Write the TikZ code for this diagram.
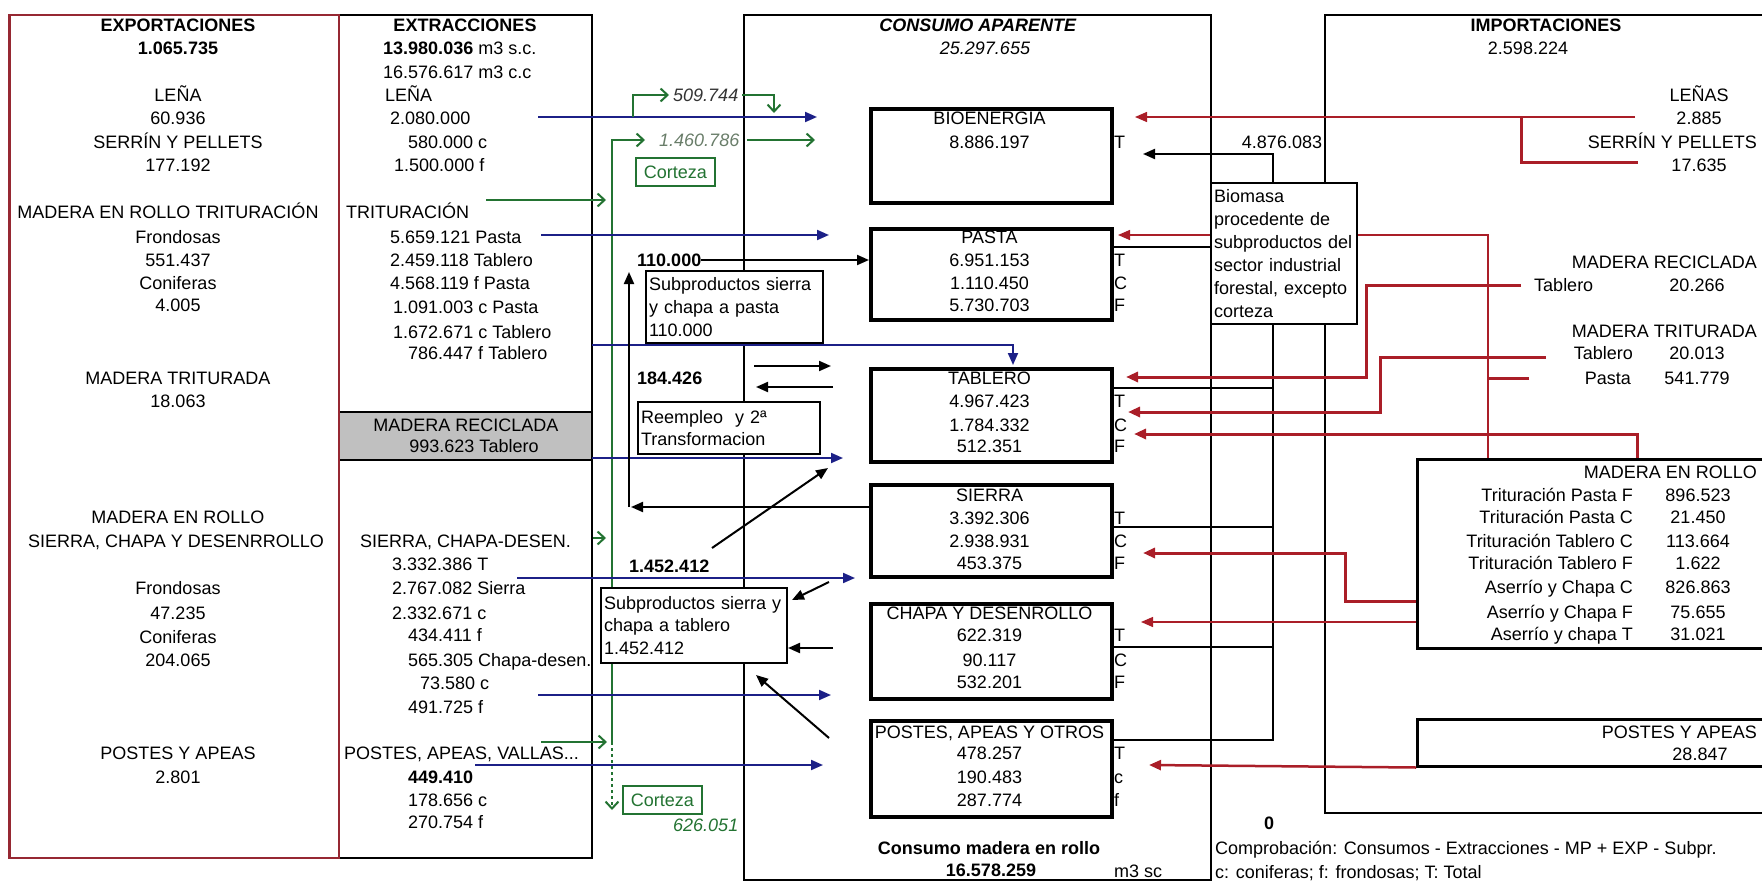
\documentclass[tikz,border=0pt]{standalone}
\usepackage{fontspec}
\setmainfont{Liberation Sans}
\usetikzlibrary{arrows.meta,positioning}

\definecolor{navy}{RGB}{28,32,135}
\definecolor{dkred}{RGB}{170,30,40}
\definecolor{framered}{RGB}{150,40,50}
\definecolor{dkgreen}{RGB}{35,115,50}
\definecolor{greygreen}{RGB}{105,125,105}
\definecolor{cellgrey}{RGB}{192,192,192}

\begin{document}
\begin{tikzpicture}[x=1pt, y=-1pt,
    every node/.style={font=\fontsize{18}{22.6}\selectfont, inner sep=0pt},
    lab/.style={text height=12.9pt, text depth=0pt},
    lw/.style={lab, anchor=west},
    le/.style={lab, anchor=east},
    cbox/.style={draw, line width=3.5pt, minimum width=241pt, anchor=north west},
    ibox/.style={draw, line width=2.5pt, minimum width=348pt, anchor=north west},
    nbox/.style={draw, fill=white, line width=2pt, anchor=north west, align=left, inner xsep=3pt},
    gbox/.style={draw=dkgreen, fill=white, line width=1.8pt, anchor=north west, text=dkgreen,
                 minimum width=79pt, minimum height=28pt},
    headtri/.style={-{Triangle[length=12pt,width=10pt]}},
    bl/.style={navy, line width=2pt, headtri},
    bk/.style={black, line width=2pt, headtri},
    rdl/.style={dkred, line width=3pt},
    rd/.style={rdl, headtri},
    rdthin/.style={dkred, line width=1.4pt, headtri},
    gr/.style={dkgreen, line width=2pt, -{Straight Barb[length=7pt,width=13pt]}},
    collect/.style={black, line width=2pt}]
    \useasboundingbox (0,0) rectangle (1762,883);

    % frames
    \fill[cellgrey] (339,412) rectangle (592,460);
    \draw[line width=2.5pt] (339,412) -- (592,412) (339,460) -- (592,460);
    \draw[line width=2.5pt] (339,15) rectangle (592,858);
    \draw[framered, line width=2.5pt] (9.5,15) rectangle (339,858);
    \draw[line width=2.5pt] (744,15) rectangle (1211,880);
    \draw[line width=2.5pt] (1765,15) -- (1325,15) -- (1325,813) -- (1765,813);

    % lines that run under the boxes
    \coordinate (g3s) at (612,742);
    \coordinate (g3e) at (645,140);
    \draw[gr] (g3s) |- (g3e);
    \coordinate (r2s) at (1488,458);
    \coordinate (r2e) at (1118,235);
    \draw[rdthin] (r2s) |- (r2e);

    % exportaciones
    \node[lab] (exp) at (178,25) {\textbf{EXPORTACIONES}};
    \node[lab] (expV) at (178,48) {\textbf{1.065.735}};
    \node[lab] (expLe) at (178,95) {LEÑA};
    \node[lab] (expLeV) at (178,118) {60.936};
    \node[lab] (expSe) at (178,142) {SERRÍN Y PELLETS};
    \node[lab] (expSeV) at (178,165) {177.192};
    \node[lab] (expTr) at (168,212) {MADERA EN ROLLO TRITURACIÓN};
    \node[lab] (expTrF) at (178,237) {Frondosas};
    \node[lab] (expTrFV) at (178,260) {551.437};
    \node[lab] (expTrC) at (178,283) {Coniferas};
    \node[lab] (expTrCV) at (178,305) {4.005};
    \node[lab] (expMt) at (178,378) {MADERA TRITURADA};
    \node[lab] (expMtV) at (178,401) {18.063};
    \node[lab] (expSi) at (178,517) {MADERA EN ROLLO};
    \node[lab] (expSi2) at (176,541) {SIERRA, CHAPA Y DESENRROLLO};
    \node[lab] (expSiF) at (178,588) {Frondosas};
    \node[lab] (expSiFV) at (178,613) {47.235};
    \node[lab] (expSiC) at (178,637) {Coniferas};
    \node[lab] (expSiCV) at (178,660) {204.065};
    \node[lab] (expPo) at (178,753) {POSTES Y APEAS};
    \node[lab] (expPoV) at (178,777) {2.801};

    % extracciones
    \node[lab] (ext) at (465,25) {\textbf{EXTRACCIONES}};
    \node[lw] (extSc) at (383,48) {\textbf{13.980.036} m3 s.c.};
    \node[lw] (extCc) at (383,72) {16.576.617 m3 c.c};
    \node[lw] (extLe) at (385,95) {LEÑA};
    \node[lw] (extLeV) at (390,118) {2.080.000};
    \node[lw] (extLeC) at (408,142) {580.000 c};
    \node[lw] (extLeF) at (394,165) {1.500.000 f};
    \node[lw] (extTr) at (346,212) {TRITURACIÓN};
    \node[lw] (extTr1) at (390,237) {5.659.121 Pasta};
    \node[lw] (extTr2) at (390,260) {2.459.118 Tablero};
    \node[lw] (extTr3) at (390,283) {4.568.119 f Pasta};
    \node[lw] (extTr4) at (393,307) {1.091.003 c Pasta};
    \node[lw] (extTr5) at (393,332) {1.672.671 c Tablero};
    \node[lw] (extTr6) at (408,353) {786.447 f Tablero};
    \node[lab] (extRec) at (466,425) {MADERA RECICLADA};
    \node[lab] (extRecV) at (474,446) {993.623 Tablero};
    \node[lw] (extSi) at (360,541) {SIERRA, CHAPA-DESEN.};
    \node[lw] (extSi1) at (392,564) {3.332.386 T};
    \node[lw] (extSi2) at (392,588) {2.767.082 Sierra};
    \node[lw] (extSi3) at (392,613) {2.332.671 c};
    \node[lw] (extSi4) at (408,635) {434.411 f};
    \node[lw] (extSi5) at (408,660) {565.305 Chapa-desen.};
    \node[lw] (extSi6) at (420,683) {73.580 c};
    \node[lw] (extSi7) at (408,707) {491.725 f};
    \node[lw] (extPo) at (344,753) {POSTES, APEAS, VALLAS...};
    \node[lw] (extPoV) at (408,777) {\textbf{449.410}};
    \node[lw] (extPoC) at (408,800) {178.656 c};
    \node[lw] (extPoF) at (408,822) {270.754 f};

    % consumo aparente
    \node[lab] (cons) at (978,25) {\textbf{\textit{CONSUMO APARENTE}}};
    \node[lab] (consV) at (985,48) {\textit{25.297.655}};
    \node[cbox, minimum height=94pt] (bio) at (869,107) {};
    \node[lab] (bioL1) at (989.5,118) {BIOENERGÍA};
    \node[lab] (bioL2) at (989.5,142) {8.886.197};
    \node[lw] (bioT) at (1114,142) {T};
    \node[cbox, minimum height=91pt] (pasta) at (869,227) {};
    \node[lab] (pasL1) at (989.5,237) {PASTA};
    \node[lab] (pasL2) at (989.5,260) {6.951.153};
    \node[lab] (pasL3) at (989.5,283) {1.110.450};
    \node[lab] (pasL4) at (989.5,305) {5.730.703};
    \node[lw] (pasT) at (1114,260) {T};
    \node[lw] (pasC) at (1114,283) {C};
    \node[lw] (pasF) at (1114,305) {F};
    \node[cbox, minimum height=93pt] (tablero) at (869,367) {};
    \node[lab] (tabL1) at (989.5,378) {TABLERO};
    \node[lab] (tabL2) at (989.5,401) {4.967.423};
    \node[lab] (tabL3) at (989.5,425) {1.784.332};
    \node[lab] (tabL4) at (989.5,446) {512.351};
    \node[lw] (tabT) at (1114,401) {T};
    \node[lw] (tabC) at (1114,425) {C};
    \node[lw] (tabF) at (1114,446) {F};
    \node[cbox, minimum height=92pt] (sierra) at (869,483) {};
    \node[lab] (sieL1) at (989.5,495) {SIERRA};
    \node[lab] (sieL2) at (989.5,518) {3.392.306};
    \node[lab] (sieL3) at (989.5,541) {2.938.931};
    \node[lab] (sieL4) at (989.5,563) {453.375};
    \node[lw] (sieT) at (1114,518) {T};
    \node[lw] (sieC) at (1114,541) {C};
    \node[lw] (sieF) at (1114,563) {F};
    \node[cbox, minimum height=95pt] (chapa) at (869,602) {};
    \node[lab] (chaL1) at (989.5,613) {CHAPA Y DESENROLLO};
    \node[lab] (chaL2) at (989.5,635) {622.319};
    \node[lab] (chaL3) at (989.5,660) {90.117};
    \node[lab] (chaL4) at (989.5,682) {532.201};
    \node[lw] (chaT) at (1114,635) {T};
    \node[lw] (chaC) at (1114,660) {C};
    \node[lw] (chaF) at (1114,682) {F};
    \node[cbox, minimum height=96pt] (postes) at (869,719) {};
    \node[lab] (posL1) at (989.5,732) {POSTES, APEAS Y OTROS};
    \node[lab] (posL2) at (989.5,753) {478.257};
    \node[lab] (posL3) at (989.5,777) {190.483};
    \node[lab] (posL4) at (989.5,800) {287.774};
    \node[lw] (posT) at (1114,753) {T};
    \node[lw] (posC) at (1114,777) {c};
    \node[lw] (posF) at (1114,800) {f};
    \node[lab] (rollo) at (989,848) {\textbf{Consumo madera en rollo}};
    \node[lab] (rolloV) at (991,870) {\textbf{16.578.259}};
    \node[lw] (rolloU) at (1114,871) {m3 sc};

    % subproductos y corteza
    \node[lw, text=black!80] (n509) at (673,95) {\textit{509.744}};
    \node[lw, text=greygreen] (n1460) at (659,140) {\textit{1.460.786}};
    \node[gbox] (cort1) at (635,157) {Corteza};
    \node[lw] (n110) at (637,260) {\textbf{110.000}};
    \node[nbox, text width=171pt, minimum height=72pt] (subPas) at (645,270)
        {Subproductos sierra\\y chapa a pasta\\110.000};
    \node[lw] (n184) at (637,378) {\textbf{184.426}};
    \node[nbox, text width=176pt, minimum height=52pt] (reemp) at (637,401)
        {Reempleo\ \ y 2ª\\Transformacion};
    \node[lw] (n1452) at (629,566) {\textbf{1.452.412}};
    \node[nbox, text width=180pt, minimum height=75pt] (subTab) at (600,587)
        {Subproductos sierra y\\chapa a tablero\\1.452.412};
    \node[gbox] (cort2) at (622,785) {Corteza};
    \node[lw, text=dkgreen] (n626) at (673,825) {\textit{626.051}};

    % biomasa
    \node[lab] (n4876) at (1282,142) {4.876.083};
    \node[nbox, font=\fontsize{18}{23}\selectfont, text width=140pt, minimum height=141pt] (bioma) at (1210,182)
        {Biomasa\\procedente de\\subproductos del\\sector industrial\\forestal, excepto\\corteza};

    % importaciones
    \node[lab] (imp) at (1546,25) {\textbf{IMPORTACIONES}};
    \node[lab] (impV) at (1528,48) {2.598.224};
    \node[lab] (impLe) at (1699,95) {LEÑAS};
    \node[lab] (impLeV) at (1699,118) {2.885};
    \node[le] (impSe) at (1757,142) {SERRÍN Y PELLETS};
    \node[lab] (impSeV) at (1699,165) {17.635};
    \node[le] (impRec) at (1757,262) {MADERA RECICLADA};
    \node[lw] (impRecT) at (1534,285) {Tablero};
    \node[lab] (impRecV) at (1697,285) {20.266};
    \node[le] (impTri) at (1757,331) {MADERA TRITURADA};
    \node[le] (impTriT) at (1633,353) {Tablero};
    \node[lab] (impTriTV) at (1697,353) {20.013};
    \node[le] (impTriP) at (1631,378) {Pasta};
    \node[lab] (impTriPV) at (1697,378) {541.779};
    \node[ibox, minimum height=189pt] (impRo) at (1416,458) {};
    \node[le] (impRoT) at (1757,472) {MADERA EN ROLLO};
    \node[le] (impRo1) at (1633,495) {Trituración Pasta F};
    \node[lab] (impRo1V) at (1698,495) {896.523};
    \node[le] (impRo2) at (1633,517) {Trituración Pasta C};
    \node[lab] (impRo2V) at (1698,517) {21.450};
    \node[le] (impRo3) at (1633,541) {Trituración Tablero C};
    \node[lab] (impRo3V) at (1698,541) {113.664};
    \node[le] (impRo4) at (1633,563) {Trituración Tablero F};
    \node[lab] (impRo4V) at (1698,563) {1.622};
    \node[le] (impRo5) at (1633,587) {Aserrío y Chapa C};
    \node[lab] (impRo5V) at (1698,587) {826.863};
    \node[le] (impRo6) at (1633,612) {Aserrío y Chapa F};
    \node[lab] (impRo6V) at (1698,612) {75.655};
    \node[le] (impRo7) at (1633,634) {Aserrío y chapa T};
    \node[lab] (impRo7V) at (1698,634) {31.021};
    \node[ibox, minimum height=47pt] (impPo) at (1416,718) {};
    \node[le] (impPoT) at (1757,732) {POSTES Y APEAS};
    \node[lab] (impPoV) at (1700,754) {28.847};

    \node[lab] (zero) at (1269,823) {\textbf{0}};
    \node[lw] (check) at (1215,848) {Comprobación: Consumos - Extracciones - MP + EXP - Subpr.};
    \node[lw] (legend) at (1215,872) {c: coniferas; f: frondosas; T: Total};

    % blue flows
    \coordinate (b1s) at (538,117);
    \coordinate (b1e) at (817,117);
    \coordinate (b2s) at (541,235);
    \coordinate (b2e) at (829,235);
    \coordinate (b3s) at (592,345);
    \coordinate (b3e) at (1013,365);
    \coordinate (b4s) at (592,458);
    \coordinate (b4e) at (843,458);
    \coordinate (b5s) at (517,578);
    \coordinate (b5e) at (855,578);
    \coordinate (b6s) at (538,695);
    \coordinate (b6e) at (831,695);
    \coordinate (b7s) at (475,765);
    \coordinate (b7e) at (823,765);
    \path[bl] (b1s) edge (b1e) (b2s) edge (b2e) (b4s) edge (b4e)
              (b5s) edge (b5e) (b6s) edge (b6e) (b7s) edge (b7e);
    \draw[bl] (b3s) -| (b3e);

    % green flows
    \coordinate (g1s) at (633,117);
    \coordinate (g2e) at (774,113);
    \draw[gr] (g1s) |- ([xshift=-4pt]n509.west);
    \draw[gr] ([xshift=4pt]n509.east) -| (g2e);
    \coordinate (g4e) at (815,140);
    \path[gr] ([xshift=8pt]n1460.east) edge (g4e);
    \coordinate (g5s) at (486,200);
    \coordinate (g5e) at (606,200);
    \coordinate (g6s) at (593,538);
    \coordinate (g6e) at (606,538);
    \coordinate (g7s) at (541,742);
    \coordinate (g7e) at (607,742);
    \path[gr] (g5s) edge (g5e) (g6s) edge (g6e) (g7s) edge (g7e);
    \coordinate (g8e) at (612,810);
    \path[gr, dashed] (g3s) edge (g8e);

    % black flows
    \path[bk] (n110) edge (pasta.west |- n110);
    \coordinate (k2e) at (631,507);
    \path[bk] (sierra.west |- k2e) edge (k2e);
    \coordinate (k3s) at (629,507);
    \coordinate (k3e) at (629,272);
    \path[bk] (k3s) edge (k3e);
    \coordinate (k4s) at (754,366);
    \coordinate (k4e) at (831,366);
    \coordinate (k5s) at (833,387);
    \coordinate (k5e) at (756,387);
    \coordinate (k6s) at (712,548);
    \coordinate (k6e) at (828,468);
    \coordinate (k7s) at (829,582);
    \coordinate (k7e) at (792,600);
    \coordinate (k8s) at (833,648);
    \coordinate (k8e) at (788,648);
    \coordinate (k9s) at (829,738);
    \coordinate (k9e) at (756,675);
    \path[bk] (k4s) edge (k4e) (k5s) edge (k5e) (k6s) edge (k6e)
              (k7s) edge (k7e) (k8s) edge (k8e) (k9s) edge (k9e);

    % biomasa collector
    \coordinate (cPa) at (1112,247);
    \coordinate (cTa) at (1112,388);
    \coordinate (cSi) at (1112,527);
    \coordinate (cCh) at (1112,647);
    \coordinate (cPo) at (1112,740);
    \coordinate (cBot) at (1273,740);
    \draw[collect] (cPa) -- (bioma.west |- cPa);
    \draw[collect] (cTa) -- (cTa -| cBot) (cSi) -- (cSi -| cBot) (cCh) -- (cCh -| cBot);
    \draw[collect] (cPo) -- (cBot) -- (bioma.south -| cBot);
    \coordinate (k0e) at (1143,154);
    \draw[bk] (bioma.north -| cBot) |- (k0e);

    % red flows (importaciones)
    \coordinate (r1s) at (1635,117);
    \coordinate (r1e) at (1135,117);
    \path[rdthin] (r1s) edge (r1e);
    \coordinate (r1b) at (1521,117);
    \coordinate (r1c) at (1638,162);
    \draw[rdl] (r1b) |- (r1c);
    \coordinate (r2p) at (1529,378);
    \draw[rdl] (r2p) -- (r2p -| r2s);
    \coordinate (r3s) at (1521,285);
    \coordinate (r3m) at (1366,330);
    \coordinate (r3e) at (1126,377);
    \draw[rd] (r3s) -| (r3m) |- (r3e);
    \coordinate (r4s) at (1546,357);
    \coordinate (r4m) at (1380,380);
    \coordinate (r4e) at (1128,412);
    \draw[rd] (r4s) -| (r4m) |- (r4e);
    \coordinate (r5s) at (1637,458);
    \coordinate (r5e) at (1134,434);
    \draw[rd] (r5s) |- (r5e);
    \coordinate (r6s) at (1416,601);
    \coordinate (r6m) at (1345,577);
    \coordinate (r6e) at (1143,553);
    \draw[rd] (r6s) -| (r6m) |- (r6e);
    \coordinate (r7s) at (1416,622);
    \coordinate (r7e) at (1141,622);
    \path[rdthin] (r7s) edge (r7e);
    \coordinate (r8e) at (1149,765);
    \path[rd, line width=2.5pt] (impPo.south west) edge (r8e);
\end{tikzpicture}
\end{document}
